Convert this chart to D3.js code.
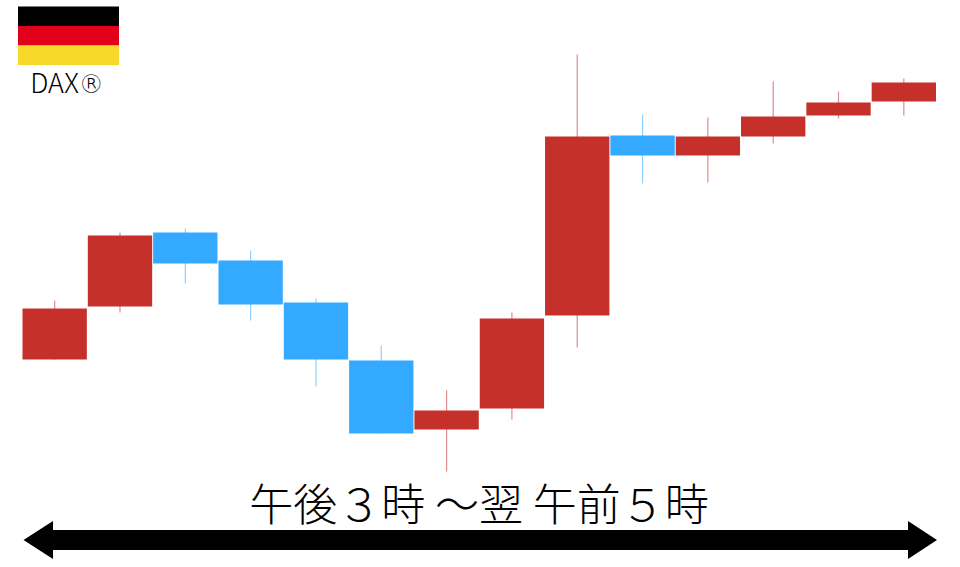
<!DOCTYPE html>
<html>
<head>
<meta charset="utf-8">
<script src="https://cdn.jsdelivr.net/npm/d3@7"></script>
<style>
html, body { margin: 0; padding: 0; background: #fff; overflow: hidden; }
</style>
</head>
<body>
<div id="chart"></div>
<script>
// candle values (no axis in the original, so arbitrary index units)
const sessions = d3.range(1, 15);
const opens  = [208, 261, 335, 307, 265, 207, 138, 159, 252, 432, 412, 431, 452, 466];
const closes = [259, 332, 304, 263, 208, 134, 157, 249, 431, 412, 431, 451, 465, 485];
const highs  = [267, 335, 339, 317, 269, 222, 177, 255, 513, 453, 450, 486, 476, 489];
const lows   = [208, 255, 284, 247, 181, 134,  96, 148, 220, 384, 385, 424, 449, 452];

const flagColors = ["#000000", "#E2001A", "#F8D92B"];
const indexName = "DAX";
const indexMark = "®";
const timeLabel = "午後３時 ～翌 午前５時";

const width = 960;
const height = 567;
const upColor = "#C5302B";
const downColor = "#33AAFF";

const candles = sessions.map((s, i) => ({
    session: s,
    open: opens[i],
    close: closes[i],
    high: highs[i],
    low: lows[i]
}));

const x = d3.scaleBand().domain(sessions).range([22.5, 936]).paddingInner(0.015);
const y = d3.scaleLinear().domain([0, height]).range([height + 0.5, 0.5]);

const svg = d3.select("#chart")
    .append("svg")
    .attr("width", width)
    .attr("height", height)
    .style("display", "block");

const candleColor = d => d.close >= d.open ? upColor : downColor;

// wicks
svg.append("g")
    .selectAll("line")
    .data(candles)
    .enter()
    .append("line")
    .attr("x1", d => x(d.session) + x.bandwidth() / 2)
    .attr("x2", d => x(d.session) + x.bandwidth() / 2)
    .attr("y1", d => y(d.high))
    .attr("y2", d => y(d.low))
    .attr("stroke", candleColor)
    .attr("stroke-width", 1.2)
    .attr("opacity", 0.55);

// bodies
svg.append("g")
    .selectAll("rect")
    .data(candles)
    .enter()
    .append("rect")
    .attr("x", d => x(d.session))
    .attr("y", d => y(Math.max(d.open, d.close)))
    .attr("width", x.bandwidth())
    .attr("height", d => Math.abs(y(d.open) - y(d.close)))
    .attr("fill", candleColor);

// flag
const flag = svg.append("g");
const flagY = d3.scaleBand().domain(d3.range(flagColors.length)).range([6.5, 65]);
flag.selectAll("rect")
    .data(flagColors)
    .enter()
    .append("rect")
    .attr("x", 18)
    .attr("y", (d, i) => flagY(i))
    .attr("width", 101)
    .attr("height", flagY.bandwidth())
    .attr("fill", d => d);

const nameText = svg.append("text")
    .attr("x", 67)
    .attr("y", 93)
    .attr("text-anchor", "middle")
    .attr("font-family", "'Noto Sans CJK JP', 'Noto Sans'")
    .attr("font-weight", 300)
    .attr("font-size", 27)
    .attr("fill", "#000");
nameText.append("tspan").text(indexName);
nameText.append("tspan")
    .attr("font-family", "'DejaVu Sans'")
    .attr("font-size", 25)
    .text(indexMark);

svg.append("text")
    .attr("x", 479)
    .attr("y", 521)
    .attr("text-anchor", "middle")
    .attr("font-family", "'Noto Sans CJK JP'")
    .attr("font-weight", 300)
    .attr("font-size", 44)
    .attr("fill", "#000")
    .text(timeLabel);

// double headed arrow along the bottom
const arrow = d3.path();
arrow.moveTo(23.5, 540);
arrow.lineTo(53, 521);
arrow.lineTo(53, 530);
arrow.lineTo(908, 530);
arrow.lineTo(908, 521);
arrow.lineTo(937, 540);
arrow.lineTo(908, 559);
arrow.lineTo(908, 550);
arrow.lineTo(53, 550);
arrow.lineTo(53, 559);
arrow.closePath();
svg.append("path")
    .attr("d", arrow.toString())
    .attr("fill", "#000");
</script>
</body>
</html>
